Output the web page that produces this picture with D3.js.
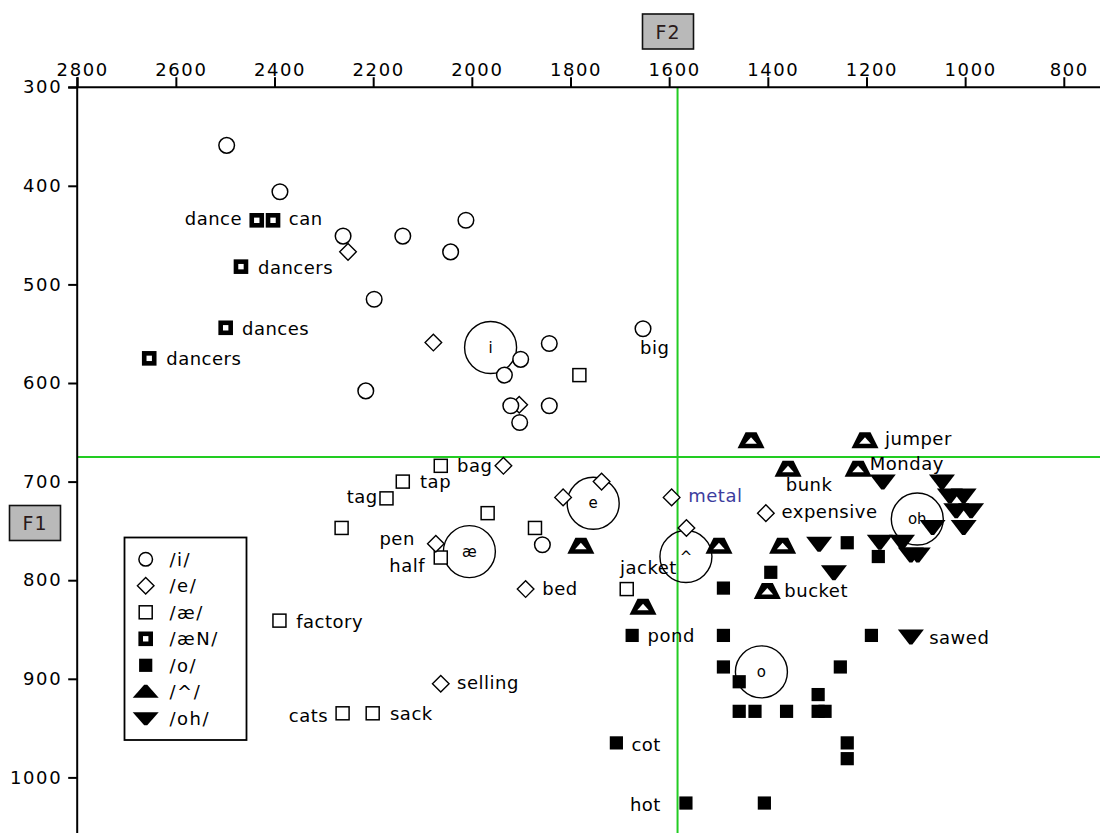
<!DOCTYPE html>
<html><head><meta charset="utf-8">
<script src="https://cdn.jsdelivr.net/npm/d3@7"></script>
<style>body{margin:0;background:#fff} svg{display:block}</style>
</head><body><svg id="c" width="1100" height="833"></svg>
<script>
// ---------- data ----------
const f2Ticks = [2800,2600,2400,2200,2000,1800,1600,1400,1200,1000,800];
const f1Ticks = [300,400,500,600,700,800,900,1000];
const legendLabels = ["/i/","/e/","/æ/","/æN/","/o/","/^/","/oh/"];
const legendKeys   = ["i","e","ae","aeN","o","uh","oh"];

// tokens: [F2, F1, word]
const tokensI = [[2497,359,""],[2389,406,""],[2261,451,""],[2140,451,""],[2012,435,""],[2043,467,""],
  [2198,515,""],[1843,560,""],[1901,576,""],[1934,592,""],[1653,545,"big"],[2215,608,""],
  [1921,623,""],[1843,623,""],[1903,640,""],[1857,764,""]];
const tokensE = [[2251,467,""],[2078,559,""],[1904,622,""],[1936,684,""],[1815,716,""],[1737,700,""],
  [1595,716,"metal"],[2073,763,"pen"],[1565,747,""],[1891,809,"bed"],[1404,732,"expensive"],[2063,905,"selling"]];
const tokensAe = [[1782,592,""],[2063,684,"bag"],[2140,700,"tap"],[2173,717,"tag"],[1968,732,""],[1872,747,""],
  [2264,747,""],[2063,777,"half"],[1686,809,"jacket"],[2390,841,"factory"],[2262,935,"cats"],[2201,935,"sack"]];
const tokensAeN = [[2436,435,"dance"],[2403,435,"can"],[2468,482,"dancers"],[2499,544,"dances"],[2654,575,"dancers"]];
const tokensO = [[1675,856,"pond"],[1490,808,""],[1490,856,""],[1490,888,""],[1239,762,""],[1176,776,""],
  [1394,792,""],[1190,856,""],[1253,888,""],[1458,903,""],[1298,916,""],[1458,933,""],[1426,933,""],
  [1362,933,""],[1298,933,""],[1284,933,""],[1239,965,""],[1239,981,""],[1707,965,"cot"],[1566,1026,"hot"],[1407,1026,""]];
const tokensUh = [[1779,765,""],[1499,765,""],[1370,765,""],[1653,827,""],[1401,811,"bucket"],
  [1434,658,""],[1203,658,"jumper"],[1359,687,"bunk"],[1217,687,"Monday"]];
const tokensOh = [[1167,700,""],[1047,700,""],[1031,714,""],[1003,714,""],[1018,729,""],[988,729,""],
  [1066,746,""],[1003,746,""],[1173,761,""],[1128,761,""],[1110,774,""],[1096,774,""],
  [1296,763,""],[1266,792,""],[1110,857,"sawed"]];
// vowel means: [label, F2, F1]
const means = [["i",1962,564],["e",1754,722],["æ",2005,771],["^",1566,776],["oh",1097,738],["o",1413,893]];
const refF2 = 1583, refF1 = 675;

// ---------- layout / style ----------
const labelPlace = { // word: [dx, dy, anchor]
  dance:[-14.7,5,"end"], can:[15.7,5,"start"], dancers:[17,7,"start"], dances:[16.3,7,"start"],
  big:[-3,25,"start"], bag:[16.3,6,"start"], tap:[17.3,6,"start"], tag:[-8.7,5,"end"],
  pen:[-21,1,"end"], half:[-15.7,14,"end"], metal:[16.6,4.5,"start"], jacket:[-6.7,-15,"start"],
  bed:[16.6,5.7,"start"], pond:[15.4,7,"start"], selling:[16.3,5,"start"], factory:[16.7,7,"start"],
  cats:[-14.4,8.5,"end"], sack:[17.3,7,"start"], cot:[15,8,"start"], hot:[-25,8,"end"],
  jumper:[20,5,"start"], bunk:[-2.3,22,"start"], Monday:[11.7,1,"start"], expensive:[15.7,4.5,"start"],
  bucket:[17,6,"start"], sawed:[18.3,8,"start"]
};
const FONT = "'DejaVu Sans', sans-serif";
const svg = d3.select("#c");
const x = d3.scaleLinear().domain([2800, 800]).range([77.2, 1063.8]);
const y = d3.scaleLinear().domain([300, 1000]).range([87.2, 777.4]);
const W = 1100, H = 833;

// reference lines
svg.append("line").attr("x1", x(refF2)).attr("x2", x(refF2)).attr("y1", y(300)).attr("y2", H)
  .attr("stroke", "#22cc22").attr("stroke-width", 2);
svg.append("line").attr("x1", x(2800)).attr("x2", W).attr("y1", y(refF1)).attr("y2", y(refF1))
  .attr("stroke", "#22cc22").attr("stroke-width", 2);

// axes
const gx = svg.append("g").attr("transform", `translate(0,${y(300)})`)
  .call(d3.axisTop(x).tickValues(f2Ticks).tickSize(10).tickPadding(1).tickFormat(d3.format("d")));
const gy = svg.append("g").attr("transform", `translate(${x(2800)},0)`)
  .call(d3.axisLeft(y).tickValues(f1Ticks).tickSize(9).tickPadding(6).tickFormat(d3.format("d")));
[gx, gy].forEach(g => {
  g.select(".domain").remove();
  g.selectAll(".tick line").attr("stroke", "#000").attr("stroke-width", 2);
  g.selectAll(".tick text").attr("fill", "#000").style("font-family", FONT)
    .style("font-size", "18px").style("letter-spacing", "1.6px");
});
gx.selectAll(".tick text").attr("dx", 5);
svg.append("line").attr("x1", x(2800) - 9).attr("x2", W).attr("y1", y(300)).attr("y2", y(300))
  .attr("stroke", "#000").attr("stroke-width", 2);
svg.append("line").attr("x1", x(2800)).attr("x2", x(2800)).attr("y1", y(300) - 10).attr("y2", H)
  .attr("stroke", "#000").attr("stroke-width", 2);

// axis title boxes
function titleBox(bx, by, t) {
  svg.append("rect").attr("x", bx).attr("y", by).attr("width", 51).attr("height", 35)
    .attr("fill", "#b9b9b9").attr("stroke", "#111").attr("stroke-width", 1.6);
  svg.append("text").attr("x", bx + 25.5).attr("y", by + 24.5).attr("text-anchor", "middle")
    .style("font-family", FONT).style("font-size", "19px").style("letter-spacing", "1px")
    .attr("fill", "#2a1a1a").text(t);
}
titleBox(642.5, 14, "F2");
titleBox(9.5, 505.5, "F1");

// mean circles
const mg = svg.append("g");
mg.selectAll("circle").data(means).join("circle")
  .attr("cx", d => x(d[1])).attr("cy", d => y(d[2])).attr("r", 26)
  .attr("fill", "none").attr("stroke", "#000").attr("stroke-width", 1.4);
mg.selectAll("text").data(means).join("text")
  .attr("x", d => x(d[1])).attr("y", d => y(d[2]) + 5).attr("text-anchor", "middle")
  .style("font-family", FONT).style("font-size", "15px").text(d => d[0]);

// marker drawers
const shapes = {
  i: g => g.append("circle").attr("r", 7.8).attr("fill", "#fff").attr("stroke", "#000").attr("stroke-width", 1.5),
  e: g => g.append("path").attr("d", "M0,-8.3L8.3,0L0,8.3L-8.3,0Z").attr("fill", "#fff").attr("stroke", "#000").attr("stroke-width", 1.4),
  ae: g => g.append("rect").attr("x", -6.5).attr("y", -6.5).attr("width", 13).attr("height", 13).attr("fill", "#fff").attr("stroke", "#000").attr("stroke-width", 1.5),
  aeN: g => g.append("rect").attr("x", -5).attr("y", -5).attr("width", 10).attr("height", 10).attr("fill", "#fff").attr("stroke", "#000").attr("stroke-width", 4.6),
  o: g => g.append("rect").attr("x", -6.6).attr("y", -6.6).attr("width", 13.2).attr("height", 13.2).attr("fill", "#000"),
  uh: g => { g.append("path").attr("d", "M-5.5,-8L5.5,-8L13.5,8L-13.5,8Z").attr("fill", "#000");
             g.append("path").attr("d", "M0,-3L5.8,3.5L-5.8,3.5Z").attr("fill", "#fff"); },
  oh: g => g.append("path").attr("d", "M-13,-7L13,-7L1.5,8L-1.5,8Z").attr("fill", "#000")
};
const legendShapes = Object.assign({}, shapes, {
  i: g => g.append("circle").attr("r", 6.8).attr("fill", "#fff").attr("stroke", "#000").attr("stroke-width", 1.5),
  uh: g => g.append("path").attr("d", "M-13,6L13,6L1.5,-7L-1.5,-7Z").attr("fill", "#000"),
  oh: g => g.append("path").attr("d", "M-13,-6L13,-6L1.5,7L-1.5,7Z").attr("fill", "#000")
});

const groups = [["ae", tokensAe], ["aeN", tokensAeN], ["e", tokensE], ["i", tokensI], ["uh", tokensUh], ["o", tokensO], ["oh", tokensOh]];
const tg = svg.append("g");
groups.forEach(([k, arr]) => {
  tg.selectAll(null).data(arr).join("g")
    .attr("transform", d => `translate(${x(d[0])},${y(d[1])})`)
    .each(function () { shapes[k](d3.select(this)); });
});
// word labels
const lg = svg.append("g");
groups.forEach(([k, arr]) => {
  lg.selectAll(null).data(arr.filter(d => d[2])).join("text")
    .attr("x", d => x(d[0]) + labelPlace[d[2]][0])
    .attr("y", d => y(d[1]) + labelPlace[d[2]][1])
    .attr("text-anchor", d => labelPlace[d[2]][2])
    .attr("fill", d => d[2] === "metal" ? "#3d3d9e" : "#000")
    .style("font-family", FONT).style("font-size", "18px").style("letter-spacing", "0.5px")
    .text(d => d[2]);
});

// legend
const leg = svg.append("g");
leg.append("rect").attr("x", 124.5).attr("y", 537.5).attr("width", 122).attr("height", 202.5)
  .attr("fill", "#fff").attr("stroke", "#000").attr("stroke-width", 1.8);
legendKeys.forEach((k, i) => {
  const row = leg.append("g").attr("transform", `translate(145.7,${559.3 + i * 26.5})`);
  legendShapes[k](row);
  leg.append("text").attr("x", 169.5).attr("y", 559.3 + i * 26.5 + 6.5)
    .style("font-family", FONT).style("font-size", "18px").style("letter-spacing", "1.5px")
    .text(legendLabels[i]);
});
</script></body></html>
